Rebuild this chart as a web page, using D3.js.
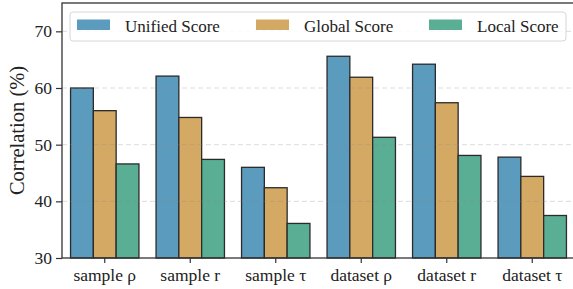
<!DOCTYPE html>
<html>
<head>
<meta charset="utf-8">
<script src="https://cdn.jsdelivr.net/npm/d3@7"></script>
<style>
  body { margin: 0; background: #fff; }
  svg text { font-family: "Liberation Serif", "Times New Roman", Times, serif; }
</style>
</head>
<body>
<svg id="chart" width="573" height="289"></svg>
<script>
// chart data
var categories = ["sample ρ", "sample r", "sample τ", "dataset ρ", "dataset r", "dataset τ"];
var seriesNames = ["Unified Score", "Global Score", "Local Score"];
var unified = [60.0, 62.1, 46.0, 65.6, 64.2, 47.8];
var globalScore = [56.0, 54.8, 42.4, 61.9, 57.4, 44.4];
var local = [46.6, 47.4, 36.1, 51.3, 48.1, 37.5];
var yTicks = [30, 40, 50, 60, 70];
var colors = ["#5b9bbd", "#d4a963", "#5aae94"];

var series = [unified, globalScore, local];
var serif = "'Liberation Serif', 'Times New Roman', Times, serif";

var margin = {top: 3, left: 62},
    plotW = 513, plotH = 255;

var svg = d3.select("#chart").attr("font-family", serif);
var g = svg.append("g")
  .attr("transform", "translate(" + margin.left + "," + margin.top + ")");

var x = d3.scaleBand()
  .domain(categories)
  .range([0, plotW])
  .paddingInner(0.2)
  .paddingOuter(0.1);

var xSub = d3.scaleBand()
  .domain(seriesNames)
  .range([0, x.bandwidth()]);

var y = d3.scaleLinear()
  .domain([30, 75])
  .range([plotH, 0]);

// bars
seriesNames.forEach(function(name, si) {
  g.selectAll(".bar" + si)
    .data(series[si])
    .enter()
    .append("rect")
      .attr("x", function(d, i) { return x(categories[i]) + xSub(name); })
      .attr("y", function(d) { return y(d); })
      .attr("width", xSub.bandwidth())
      .attr("height", function(d) { return plotH - y(d); })
      .style("fill", colors[si])
      .attr("stroke", "#2b2b2b")
      .attr("stroke-width", 1.3);
});

// dashed grid (shows faintly through bars)
g.selectAll(".grid")
  .data(yTicks.slice(1))
  .enter()
  .append("line")
    .attr("x1", 0)
    .attr("x2", plotW)
    .attr("y1", function(d) { return y(d); })
    .attr("y2", function(d) { return y(d); })
    .attr("stroke", "rgba(140,140,140,0.3)")
    .attr("stroke-width", 1)
    .attr("stroke-dasharray", "5,3");

// axes
var yAxis = g.append("g")
  .call(d3.axisLeft(y).tickValues(yTicks).tickSize(6).tickPadding(4));
var xAxis = g.append("g")
  .attr("transform", "translate(0," + plotH + ")")
  .call(d3.axisBottom(x).tickSize(5).tickPadding(6));

yAxis.attr("font-size", 17.5);
xAxis.attr("font-size", 17.5);
[yAxis, xAxis].forEach(function(a) {
  a.attr("font-family", serif);
  a.select(".domain").remove();
  a.selectAll("line").attr("stroke", "#333").attr("stroke-width", 1.2);
  a.selectAll("text").attr("fill", "#222");
});

// frame
g.append("rect")
  .attr("x", 0).attr("y", 0)
  .attr("width", plotW).attr("height", plotH)
  .attr("fill", "none")
  .attr("stroke", "#333")
  .attr("stroke-width", 1.3);

// y label
svg.append("text")
  .attr("transform", "translate(24," + (margin.top + plotH / 2) + ") rotate(-90)")
  .attr("text-anchor", "middle")
  .attr("font-size", 20.5)
  .attr("fill", "#222")
  .text("Correlation (%)");

// legend
var legend = svg.append("g");
legend.append("rect")
  .attr("x", 70).attr("y", 12)
  .attr("width", 496).attr("height", 29)
  .attr("rx", 3)
  .attr("fill", "rgba(255,255,255,0.85)")
  .attr("stroke", "#d6d6d6")
  .attr("stroke-width", 1);

var legendX = [77, 256, 429];
seriesNames.forEach(function(name, i) {
  legend.append("rect")
    .attr("x", legendX[i]).attr("y", 19.5)
    .attr("width", 33).attr("height", 10.5)
    .attr("fill", colors[i]);
  legend.append("text")
    .attr("x", legendX[i] + 48).attr("y", 31.5)
    .attr("font-size", 17)
    .attr("fill", "#222")
    .text(name);
});
</script>
</body>
</html>
